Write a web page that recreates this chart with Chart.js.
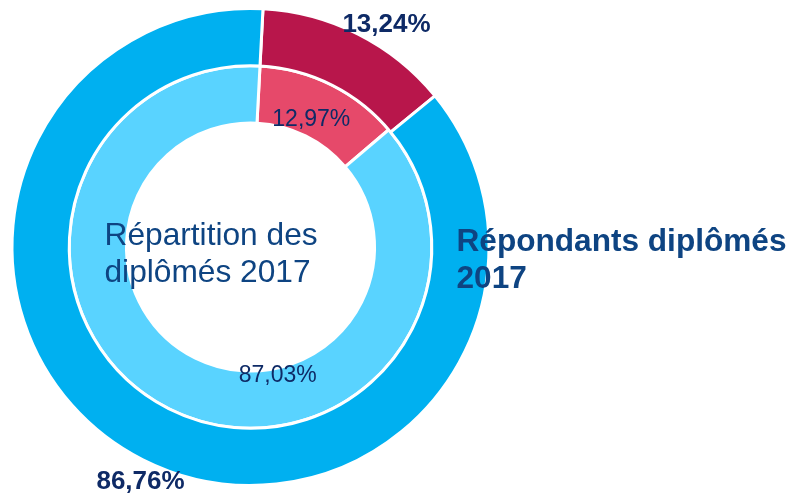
<!DOCTYPE html>
<html>
<head>
<meta charset="utf-8">
<script src="https://cdn.jsdelivr.net/npm/chart.js@4/dist/chart.umd.min.js"></script>
<style>
  html, body { margin: 0; padding: 0; background: #fff; }
  #wrap { width: 796px; height: 496px; }
</style>
</head>
<body>
<div id="wrap"><canvas id="donut" width="796" height="496"></canvas></div>
<script>
"use strict";

// data (percent)
var categories = ["Diplômés 2017", "Autres"];
var respondentShares = [13.24, 86.76];   // outer ring
var graduateShares = [12.97, 87.03];     // inner ring
var outerTitle = ["Répondants diplômés", "2017"];
var innerTitle = ["Répartition des", "diplômés 2017"];

var outerColors = ["#B8164B", "#00B0F0"];
var innerColors = ["#E6496A", "#59D3FF"];

// label placement: [radius offset from arc outer edge, dx, dy] per ring/segment
var labelNudges = [
    [[14, 22, 3], [14, 4, 10]],
    [[-42, -1, -3], [-42, 89, 4]]
];

function fmt(v) {
    return v.toFixed(2).replace(".", ",") + "%";
}

var textPlugin = {
    id: "texts",
    afterDraw: function (chart) {
        var ctx = chart.ctx,
            area = chart.chartArea,
            cx = (area.left + area.right) / 2,
            cy = (area.top + area.bottom) / 2;

        ctx.save();
        ctx.textBaseline = "middle";
        ctx.textAlign = "center";

        chart.data.datasets.forEach(function (ds, di) {
            var meta = chart.getDatasetMeta(di);
            meta.data.forEach(function (arc, i) {
                var p = arc.getProps(["startAngle", "endAngle", "outerRadius", "x", "y"], true),
                    mid = (p.startAngle + p.endAngle) / 2,
                    n = labelNudges[di][i],
                    r = p.outerRadius + n[0];
                ctx.font = (di === 0 ? "bold 26px" : "23px") + " 'Liberation Sans', Arial, sans-serif";
                ctx.fillStyle = "#0E2A66";
                ctx.fillText(fmt(ds.data[i]), p.x + Math.cos(mid) * r + n[1], p.y + Math.sin(mid) * r + n[2]);
            });
        });

        // centre caption
        ctx.textAlign = "left";
        ctx.textBaseline = "alphabetic";
        ctx.fillStyle = "#0E4482";
        ctx.font = "31.7px 'Liberation Sans', Arial, sans-serif";
        ctx.fillText(innerTitle[0], cx - 146, cy - 2);
        ctx.fillText(innerTitle[1], cx - 146, cy + 35);

        // outer ring caption
        ctx.font = "bold 31.6px 'Liberation Sans', Arial, sans-serif";
        ctx.fillText(outerTitle[0], cx + 206, cy + 4);
        ctx.fillText(outerTitle[1], cx + 206, cy + 41);
        ctx.restore();
    }
};

new Chart(document.getElementById("donut").getContext("2d"), {
    type: "doughnut",
    data: {
        labels: categories,
        datasets: [
            {
                label: outerTitle.join(" "),
                data: respondentShares,
                backgroundColor: outerColors,
                borderColor: "#ffffff",
                borderWidth: 3
            },
            {
                label: innerTitle.join(" "),
                data: graduateShares,
                backgroundColor: innerColors,
                borderColor: "#ffffff",
                borderWidth: 3
            }
        ]
    },
    options: {
        responsive: false,
        animation: false,
        rotation: 3,
        cutout: "52%",
        layout: { padding: { left: 10, top: 7, right: 305, bottom: 9 } },
        plugins: {
            legend: { display: false },
            tooltip: { enabled: false }
        }
    },
    plugins: [textPlugin]
});
</script>
</body>
</html>
